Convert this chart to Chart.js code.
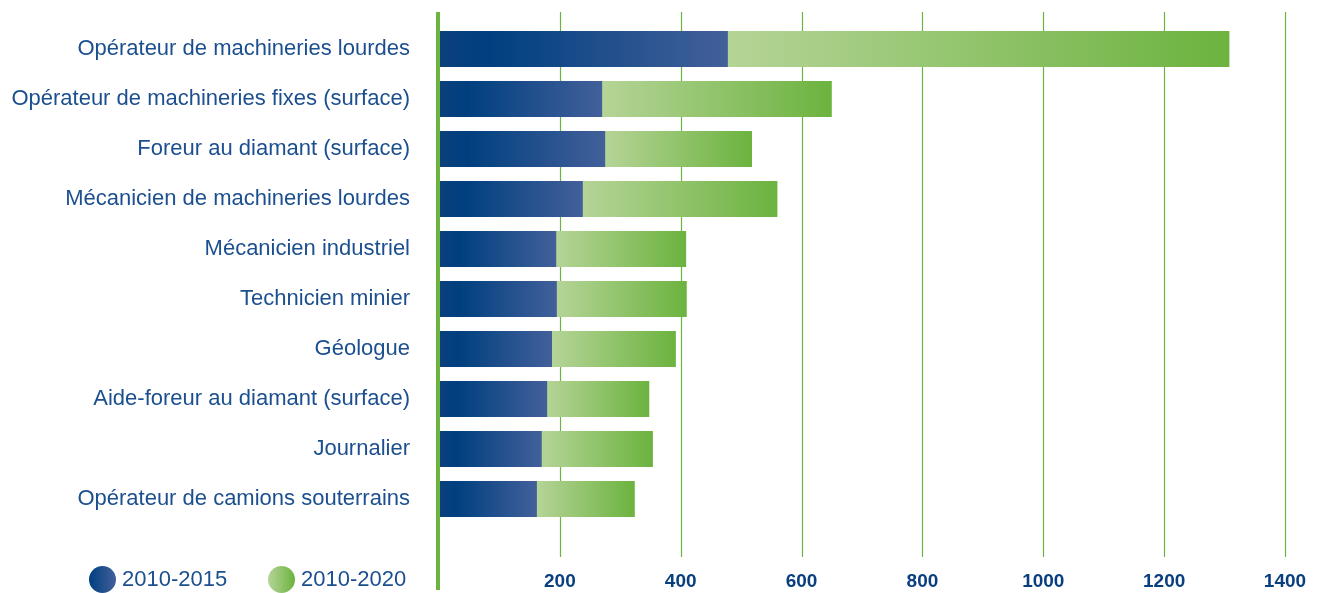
<!DOCTYPE html>
<html>
<head>
<meta charset="utf-8">
<script src="https://cdn.jsdelivr.net/npm/chart.js@4.4.1/dist/chart.umd.min.js"></script>
<style>
  html, body { margin: 0; padding: 0; background: #fff; }
  #wrap { position: relative; width: 1325px; height: 593px; }
  #legend { position: absolute; left: 89px; top: 566px; font-family: "Liberation Sans", Arial, sans-serif; font-size: 22px; color: #1c4f8f; }
  .item { position: absolute; top: 0; white-space: nowrap; line-height: 26px; }
  .dot { display: inline-block; width: 27px; height: 27px; border-radius: 50%; vertical-align: top; margin-right: 6px; }
</style>
</head>
<body>
<div id="wrap">
  <canvas id="chart" width="1325" height="593"></canvas>
  <div id="legend">
    <div class="item" style="left:0"><span class="dot" style="background:linear-gradient(90deg,#003f7f,#42609a)"></span>2010-2015</div>
    <div class="item" style="left:179px"><span class="dot" style="background:linear-gradient(90deg,#b5d497,#6cb33f)"></span>2010-2020</div>
  </div>
</div>
<script>
const categories = [
    'Opérateur de machineries lourdes',
    'Opérateur de machineries fixes (surface)',
    'Foreur au diamant (surface)',
    'Mécanicien de machineries lourdes',
    'Mécanicien industriel',
    'Technicien minier',
    'Géologue',
    'Aide-foreur au diamant (surface)',
    'Journalier',
    'Opérateur de camions souterrains'
];
const series2015 = [478, 270, 275, 238, 194, 195, 187, 179, 170, 162];
const series2020 = [1308, 650, 518, 560, 409, 410, 392, 348, 354, 324];
const xTicks = [0, 200, 400, 600, 800, 1000, 1200, 1400];

const NAVY = '#1c4f8f';
const GREEN = '#6cb33f';

function barGradient(ctx, from, to, stops) {
    const chart = ctx.chart;
    const x = chart.scales.x;
    if (!x || !chart.chartArea) return stops[0][1];
    const x0 = x.getPixelForValue(from);
    const x1 = x.getPixelForValue(to);
    if (!isFinite(x0) || !isFinite(x1) || x1 <= x0) return stops[0][1];
    const g = chart.ctx.createLinearGradient(x0, 0, x1, 0);
    stops.forEach(s => g.addColorStop(s[0], s[1]));
    return g;
}

// long grid lines + thick green axis line, placed from the x scale
const axisPlugin = {
    id: 'axisLines',
    beforeDatasetsDraw(chart) {
        const c = chart.ctx;
        const x = chart.scales.x;
        c.save();
        c.strokeStyle = GREEN;
        c.lineWidth = 1.2;
        xTicks.slice(1).forEach(v => {
            const px = Math.round(x.getPixelForValue(v)) + 0.5;
            c.beginPath();
            c.moveTo(px, 12);
            c.lineTo(px, 557);
            c.stroke();
        });
        c.restore();
    },
    afterDatasetsDraw(chart) {
        const c = chart.ctx;
        const x = chart.scales.x;
        c.save();
        c.strokeStyle = GREEN;
        c.lineWidth = 4;
        const px = x.getPixelForValue(0) - 1;
        c.beginPath();
        c.moveTo(px, 12);
        c.lineTo(px, 590);
        c.stroke();
        c.restore();
    }
};

new Chart(document.getElementById('chart'), {
    type: 'bar',
    data: {
        labels: categories,
        datasets: [
            {
                label: '2010-2015',
                data: series2015,
                order: 1,
                grouped: false,
                categoryPercentage: 0.72,
                barPercentage: 1,
                borderWidth: 0,
                backgroundColor: ctx => barGradient(ctx, 0, series2015[ctx.dataIndex],
                    [[0, '#0b407c'], [0.17, '#003f7f'], [1, '#42609a']])
            },
            {
                label: '2010-2020',
                data: series2020,
                order: 2,
                grouped: false,
                categoryPercentage: 0.72,
                barPercentage: 1,
                borderWidth: 0,
                backgroundColor: ctx => barGradient(ctx, series2015[ctx.dataIndex], series2020[ctx.dataIndex],
                    [[0, '#b5d497'], [1, '#6cb33f']])
            }
        ]
    },
    options: {
        indexAxis: 'y',
        responsive: false,
        animation: false,
        layout: { padding: { top: 24, right: 40, left: 0, bottom: 0 } },
        plugins: { legend: { display: false }, tooltip: { enabled: false } },
        scales: {
            x: {
                min: 0,
                max: 1400,
                afterFit: s => {
                    s.height = 69;
                    s.paddingLeft = 0;
                    s.paddingRight = 0;
                },
                grid: { display: false, drawTicks: false },
                border: { display: false },
                ticks: {
                    stepSize: 200,
                    padding: 46,
                    color: '#0a3f7f',
                    font: { family: '"Liberation Sans Narrow", "Liberation Sans", Arial', size: 19, weight: 'bold' },
                    callback: v => (v === 0 ? '' : v)
                }
            },
            y: {
                afterFit: s => {
                    s.width = 439;
                    s.paddingTop = 0;
                    s.paddingBottom = 0;
                },
                grid: { display: false, drawTicks: false },
                border: { display: false },
                ticks: {
                    padding: 29,
                    color: NAVY,
                    font: { family: '"Liberation Sans", Arial', size: 22 }
                }
            }
        }
    },
    plugins: [axisPlugin]
});
</script>
</body>
</html>
